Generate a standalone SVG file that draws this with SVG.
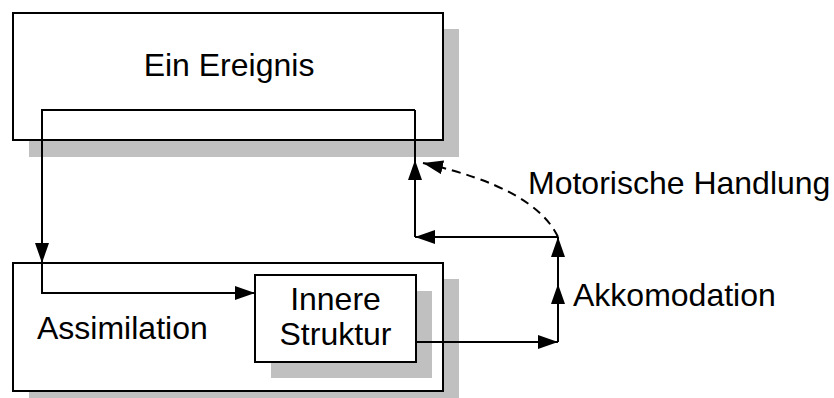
<svg xmlns="http://www.w3.org/2000/svg" width="834" height="398" viewBox="0 0 834 398">
<style>
.shadow{fill:#c0c0c0;stroke:none}
.box{fill:#fff;stroke:#000;stroke-width:2}
.lbl{font-family:"Liberation Sans",Arial,sans-serif;font-size:32px;fill:#000}
.ln{fill:none;stroke:#000;stroke-width:2}
.dash{fill:none;stroke:#000;stroke-width:2;stroke-dasharray:9,6}
</style>
<defs>
<marker id="ah" markerUnits="userSpaceOnUse" markerWidth="20" markerHeight="14" viewBox="0 0 20 14" refX="20" refY="7" orient="auto">
<path d="M0,0 L20,7 L0,14 Z" fill="#000"/>
</marker>
</defs>
<g id="ereignis">
<rect class="shadow" x="29" y="29" width="430" height="128"/>
<rect class="box" x="13" y="13" width="430" height="127"/>
<text class="lbl" x="229" y="76" text-anchor="middle">Ein Ereignis</text>
</g>
<g id="assimilation">
<rect class="shadow" x="29" y="279" width="430" height="128"/>
<rect class="box" x="13" y="263" width="430" height="128"/>
<text class="lbl" x="37" y="339">Assimilation</text>
</g>
<g id="struktur">
<rect class="shadow" x="271" y="291" width="161" height="87"/>
<rect class="box" x="255" y="275" width="161" height="87"/>
<text class="lbl" x="335.5" y="310" text-anchor="middle">Innere</text>
<text class="lbl" x="335.5" y="345" text-anchor="middle">Struktur</text>
</g>
<g id="labels">
<text class="lbl" x="528" y="194">Motorische Handlung</text>
<text class="lbl" x="573" y="306">Akkomodation</text>
</g>
<g id="connectors">
<path class="ln" d="M415,110 L42,110 L42,263" marker-end="url(#ah)"/>
<path class="ln" d="M42,263 L42,293 L255,293" marker-end="url(#ah)"/>
<path class="ln" d="M416,342 L558,342" marker-end="url(#ah)"/>
<path class="ln" d="M558,342 L558,284" marker-end="url(#ah)"/>
<path class="ln" d="M558,284 L558,237" marker-end="url(#ah)"/>
<path class="ln" d="M558,237 L415,237" marker-end="url(#ah)"/>
<path class="ln" d="M415,237 L415,160" marker-end="url(#ah)"/>
<path class="ln" d="M415,160 L415,110"/>
<path class="dash" d="M558,237 Q535,188 423,163" marker-end="url(#ah)"/>
</g>
</svg>
